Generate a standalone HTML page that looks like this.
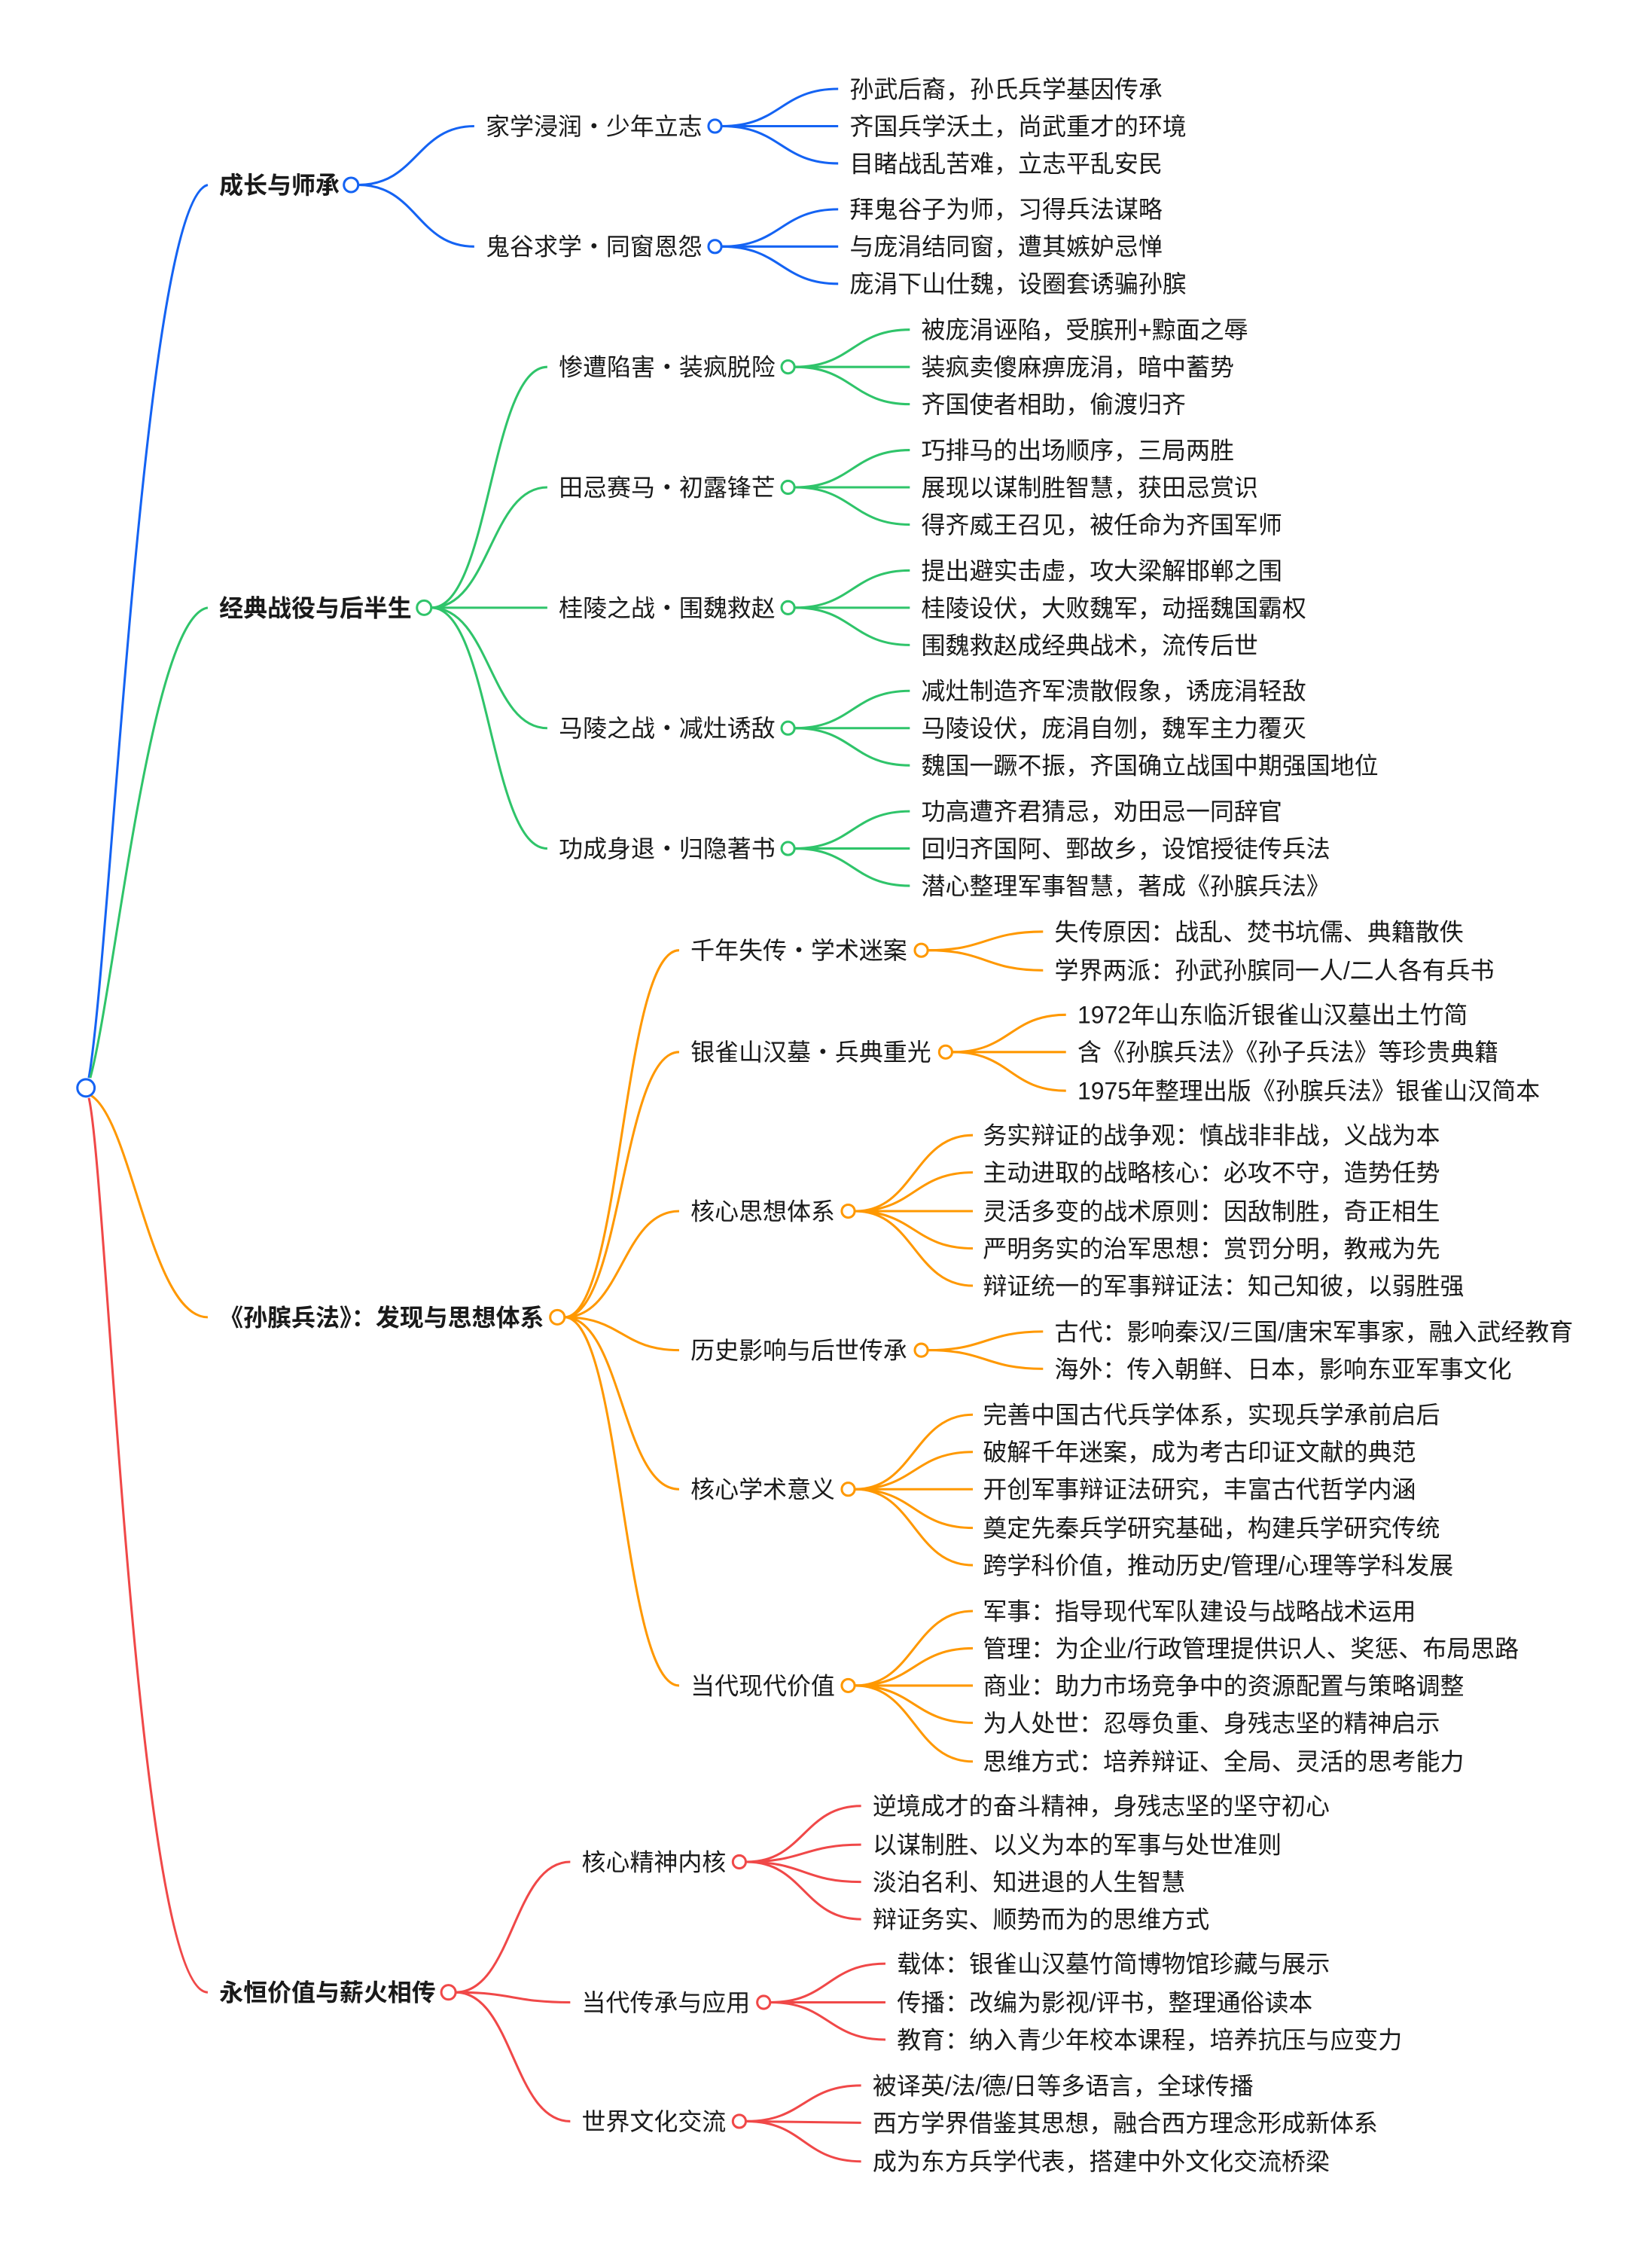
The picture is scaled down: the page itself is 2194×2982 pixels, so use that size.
<!DOCTYPE html>
<html><head><meta charset="utf-8"><style>
html,body{margin:0;padding:0;background:#fff;width:2194px;height:2982px;overflow:hidden}
svg text{font-family:"Liberation Sans","Noto Sans CJK SC",sans-serif;font-size:16.8px;fill:#1a1a1a}
svg text.b{font-weight:bold}
.bl{stroke:#1463f3}.gr{stroke:#2fc46a}.or{stroke:#ff9800}.rd{stroke:#f04848}
path{fill:none;stroke-width:1.6}
circle{fill:#fff;stroke-width:1.6}
</style></head><body>
<svg width="2194" height="2982" viewBox="0 0 1153 1567" preserveAspectRatio="none" xmlns="http://www.w3.org/2000/svg">
<!-- root connectors -->
<path class="bl" d="M62 752 C78 660,100 140,145 129"/>
<path class="gr" d="M63 752 C80 690,105 430,145 424"/>
<path class="or" d="M63 764 C92 780,105 919,145 919"/>
<path class="rd" d="M62 766 C75 820,95 1390,145 1390"/>

<!-- blue -->
<path class="bl" d="M250 129 C291 129,291 88,331 88"/>
<path class="bl" d="M250 129 C291 129,291 172,331 172"/>
<g class="bl">
<path d="M504 88 C545 88,545 62,585 62"/><path d="M504 88 L585 88"/><path d="M504 88 C545 88,545 114,585 114"/>
<path d="M504 172 C545 172,545 146,585 146"/><path d="M504 172 L585 172"/><path d="M504 172 C545 172,545 198,585 198"/>
</g>
<circle class="bl" cx="245" cy="129" r="5"/><circle class="bl" cx="499" cy="88" r="4.5"/><circle class="bl" cx="499" cy="172" r="4.5"/>
<text class="b" x="153" y="135">成长与师承</text>
<text x="339" y="94">家学浸润・少年立志</text>
<text x="339" y="178">鬼谷求学・同窗恩怨</text>
<text x="593" y="68">孙武后裔，孙氏兵学基因传承</text>
<text x="593" y="94">齐国兵学沃土，尚武重才的环境</text>
<text x="593" y="120">目睹战乱苦难，立志平乱安民</text>
<text x="593" y="152">拜鬼谷子为师，习得兵法谋略</text>
<text x="593" y="178">与庞涓结同窗，遭其嫉妒忌惮</text>
<text x="593" y="204">庞涓下山仕魏，设圈套诱骗孙膑</text>

<!-- green -->
<g class="gr">
<path d="M301 424 C342 424,342 256,382 256"/>
<path d="M301 424 C342 424,342 340,382 340"/>
<path d="M301 424 L382 424"/>
<path d="M301 424 C342 424,342 508,382 508"/>
<path d="M301 424 C342 424,342 592,382 592"/>
<path d="M555 256 C595 256,595 230,635 230"/><path d="M555 256 L635 256"/><path d="M555 256 C595 256,595 282,635 282"/>
<path d="M555 340 C595 340,595 314,635 314"/><path d="M555 340 L635 340"/><path d="M555 340 C595 340,595 366,635 366"/>
<path d="M555 424 C595 424,595 398,635 398"/><path d="M555 424 L635 424"/><path d="M555 424 C595 424,595 450,635 450"/>
<path d="M555 508 C595 508,595 482,635 482"/><path d="M555 508 L635 508"/><path d="M555 508 C595 508,595 534,635 534"/>
<path d="M555 592 C595 592,595 566,635 566"/><path d="M555 592 L635 592"/><path d="M555 592 C595 592,595 618,635 618"/>
</g>
<circle class="gr" cx="296" cy="424" r="5"/>
<circle class="gr" cx="550" cy="256" r="4.5"/><circle class="gr" cx="550" cy="340" r="4.5"/><circle class="gr" cx="550" cy="424" r="4.5"/><circle class="gr" cx="550" cy="508" r="4.5"/><circle class="gr" cx="550" cy="592" r="4.5"/>
<text class="b" x="153" y="430">经典战役与后半生</text>
<text x="390" y="262">惨遭陷害・装疯脱险</text>
<text x="390" y="346">田忌赛马・初露锋芒</text>
<text x="390" y="430">桂陵之战・围魏救赵</text>
<text x="390" y="514">马陵之战・减灶诱敌</text>
<text x="390" y="598">功成身退・归隐著书</text>
<text x="643" y="236">被庞涓诬陷，受膑刑+黥面之辱</text>
<text x="643" y="262">装疯卖傻麻痹庞涓，暗中蓄势</text>
<text x="643" y="288">齐国使者相助，偷渡归齐</text>
<text x="643" y="320">巧排马的出场顺序，三局两胜</text>
<text x="643" y="346">展现以谋制胜智慧，获田忌赏识</text>
<text x="643" y="372">得齐威王召见，被任命为齐国军师</text>
<text x="643" y="404">提出避实击虚，攻大梁解邯郸之围</text>
<text x="643" y="430">桂陵设伏，大败魏军，动摇魏国霸权</text>
<text x="643" y="456">围魏救赵成经典战术，流传后世</text>
<text x="643" y="488">减灶制造齐军溃散假象，诱庞涓轻敌</text>
<text x="643" y="514">马陵设伏，庞涓自刎，魏军主力覆灭</text>
<text x="643" y="540">魏国一蹶不振，齐国确立战国中期强国地位</text>
<text x="643" y="572">功高遭齐君猜忌，劝田忌一同辞官</text>
<text x="643" y="598">回归齐国阿、鄄故乡，设馆授徒传兵法</text>
<text x="643" y="624">潜心整理军事智慧，著成《孙膑兵法》</text>

<!-- orange -->
<g class="or">
<path d="M394 919 C434 919,434 663,474 663"/>
<path d="M394 919 C434 919,434 734,474 734"/>
<path d="M394 919 C434 919,434 845,474 845"/>
<path d="M394 919 C434 919,434 942,474 942"/>
<path d="M394 919 C434 919,434 1039,474 1039"/>
<path d="M394 919 C434 919,434 1176,474 1176"/>
<path d="M648 663 C688 663,688 650,728 650"/><path d="M648 663 C688 663,688 677,728 677"/>
<path d="M665 734 C705 734,705 708,744 708"/><path d="M665 734 L744 734"/><path d="M665 734 C705 734,705 761,744 761"/>
<path d="M597 845 C638 845,638 792,679 792"/><path d="M597 845 C638 845,638 818,679 818"/><path d="M597 845 L679 845"/><path d="M597 845 C638 845,638 871,679 871"/><path d="M597 845 C638 845,638 897,679 897"/>
<path d="M648 942 C688 942,688 929,728 929"/><path d="M648 942 C688 942,688 955,728 955"/>
<path d="M597 1039 C638 1039,638 987,679 987"/><path d="M597 1039 C638 1039,638 1013,679 1013"/><path d="M597 1039 L679 1039"/><path d="M597 1039 C638 1039,638 1066,679 1066"/><path d="M597 1039 C638 1039,638 1092,679 1092"/>
<path d="M597 1176 C638 1176,638 1124,679 1124"/><path d="M597 1176 C638 1176,638 1150,679 1150"/><path d="M597 1176 L679 1176"/><path d="M597 1176 C638 1176,638 1202,679 1202"/><path d="M597 1176 C638 1176,638 1229,679 1229"/>
</g>
<circle class="or" cx="389" cy="919" r="5"/>
<circle class="or" cx="643" cy="663" r="4.5"/><circle class="or" cx="660" cy="734" r="4.5"/><circle class="or" cx="592" cy="845" r="4.5"/><circle class="or" cx="643" cy="942" r="4.5"/><circle class="or" cx="592" cy="1039" r="4.5"/><circle class="or" cx="592" cy="1176" r="4.5"/>
<text class="b" x="153" y="925">《孙膑兵法》：发现与思想体系</text>
<text x="482" y="669">千年失传・学术迷案</text>
<text x="482" y="740">银雀山汉墓・兵典重光</text>
<text x="482" y="851">核心思想体系</text>
<text x="482" y="948">历史影响与后世传承</text>
<text x="482" y="1045">核心学术意义</text>
<text x="482" y="1182">当代现代价值</text>
<text x="736" y="656">失传原因：战乱、焚书坑儒、典籍散佚</text>
<text x="736" y="683">学界两派：孙武孙膑同一人/二人各有兵书</text>
<text x="752" y="714">1972年山东临沂银雀山汉墓出土竹简</text>
<text x="752" y="740">含《孙膑兵法》《孙子兵法》等珍贵典籍</text>
<text x="752" y="767">1975年整理出版《孙膑兵法》银雀山汉简本</text>
<text x="686" y="798">务实辩证的战争观：慎战非非战，义战为本</text>
<text x="686" y="824">主动进取的战略核心：必攻不守，造势任势</text>
<text x="686" y="851">灵活多变的战术原则：因敌制胜，奇正相生</text>
<text x="686" y="877">严明务实的治军思想：赏罚分明，教戒为先</text>
<text x="686" y="903">辩证统一的军事辩证法：知己知彼，以弱胜强</text>
<text x="736" y="935">古代：影响秦汉/三国/唐宋军事家，融入武经教育</text>
<text x="736" y="961">海外：传入朝鲜、日本，影响东亚军事文化</text>
<text x="686" y="993">完善中国古代兵学体系，实现兵学承前启后</text>
<text x="686" y="1019">破解千年迷案，成为考古印证文献的典范</text>
<text x="686" y="1045">开创军事辩证法研究，丰富古代哲学内涵</text>
<text x="686" y="1072">奠定先秦兵学研究基础，构建兵学研究传统</text>
<text x="686" y="1098">跨学科价值，推动历史/管理/心理等学科发展</text>
<text x="686" y="1130">军事：指导现代军队建设与战略战术运用</text>
<text x="686" y="1156">管理：为企业/行政管理提供识人、奖惩、布局思路</text>
<text x="686" y="1182">商业：助力市场竞争中的资源配置与策略调整</text>
<text x="686" y="1208">为人处世：忍辱负重、身残志坚的精神启示</text>
<text x="686" y="1235">思维方式：培养辩证、全局、灵活的思考能力</text>

<!-- red -->
<g class="rd">
<path d="M318 1390 C358 1390,358 1299,398 1299"/>
<path d="M318 1390 C358 1390,358 1397,398 1397"/>
<path d="M318 1390 C358 1390,358 1480,398 1480"/>
<path d="M521 1299 C561 1299,561 1260,601 1260"/><path d="M521 1299 C561 1299,561 1287,601 1287"/><path d="M521 1299 C561 1299,561 1313,601 1313"/><path d="M521 1299 C561 1299,561 1339,601 1339"/>
<path d="M538 1397 C578 1397,578 1370,618 1370"/><path d="M538 1397 L618 1397"/><path d="M538 1397 C578 1397,578 1423,618 1423"/>
<path d="M521 1480 C561 1480,561 1455,601 1455"/><path d="M521 1480 L601 1481"/><path d="M521 1480 C561 1480,561 1508,601 1508"/>
</g>
<circle class="rd" cx="313" cy="1390" r="5"/>
<circle class="rd" cx="516" cy="1299" r="4.5"/><circle class="rd" cx="533" cy="1397" r="4.5"/><circle class="rd" cx="516" cy="1480" r="4.5"/>
<text class="b" x="153" y="1396">永恒价值与薪火相传</text>
<text x="406" y="1305">核心精神内核</text>
<text x="406" y="1403">当代传承与应用</text>
<text x="406" y="1486">世界文化交流</text>
<text x="609" y="1266">逆境成才的奋斗精神，身残志坚的坚守初心</text>
<text x="609" y="1293">以谋制胜、以义为本的军事与处世准则</text>
<text x="609" y="1319">淡泊名利、知进退的人生智慧</text>
<text x="609" y="1345">辩证务实、顺势而为的思维方式</text>
<text x="626" y="1376">载体：银雀山汉墓竹简博物馆珍藏与展示</text>
<text x="626" y="1403">传播：改编为影视/评书，整理通俗读本</text>
<text x="626" y="1429">教育：纳入青少年校本课程，培养抗压与应变力</text>
<text x="609" y="1461">被译英/法/德/日等多语言，全球传播</text>
<text x="609" y="1487">西方学界借鉴其思想，融合西方理念形成新体系</text>
<text x="609" y="1514">成为东方兵学代表，搭建中外文化交流桥梁</text>

<circle class="bl" cx="60" cy="759" r="6"/>
</svg>
</body></html>
